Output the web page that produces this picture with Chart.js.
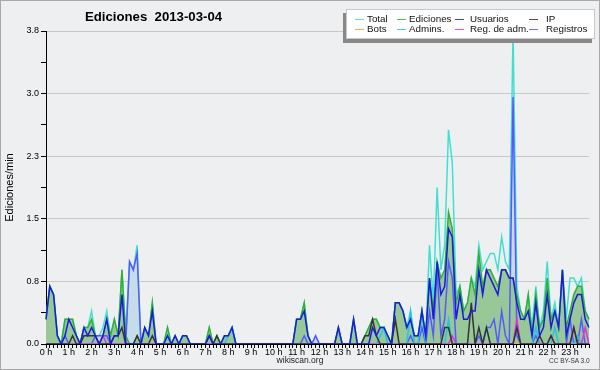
<!DOCTYPE html>
<html>
<head>
<meta charset="utf-8">
<script src="https://cdn.jsdelivr.net/npm/chart.js@4.4.0/dist/chart.umd.min.js"></script>
<style>
    html, body { margin: 0; padding: 0; background: #eeeff1; }
    #wrap { position: relative; width: 600px; height: 370px; font-family: 'Liberation Sans', Arial, sans-serif; color: #000; }
    #frame { position: absolute; left: 0; top: 0; width: 600px; height: 370px; box-sizing: border-box; border: 1px solid #a8a8a8; pointer-events: none; }
    .title { position: absolute; left: 85px; top: 9px; font-size: 13.2px; font-weight: bold; white-space: pre; line-height: 15px; }
    .legend { position: absolute; left: 346px; top: 9px; width: 249px; height: 30px; box-sizing: border-box; background: #fff; border: 1px solid #c8c8c8; box-shadow: -3px 4px 0 #888; }
    .legend .ln { position: absolute; width: 9px; height: 1px; opacity: 0.85; }
    .legend .tx { position: absolute; font-size: 9.8px; line-height: 12px; white-space: nowrap; color: #111; }
    .foot { position: absolute; top: 355px; left: 0; width: 600px; text-align: center; font-size: 8.5px; color: #222; }
    .cc { position: absolute; left: 549px; top: 357px; font-size: 6.5px; color: #333; white-space: nowrap; }
</style>
</head>
<body>
<div id="wrap">
    <canvas id="chart" width="600" height="370"></canvas>
    <div class="title">Ediciones  2013-03-04</div>
    <div class="legend" id="legend"></div>
    <div class="foot">wikiscan.org</div>
    <div class="cc">CC BY-SA 3.0</div>
    <div id="frame"></div>
</div>
<script>
// horas del eje x (una marca cada 10 min)
const hours = ['0 h', '1 h', '2 h', '3 h', '4 h', '5 h', '6 h', '7 h', '8 h', '9 h', '10 h', '11 h',
    '12 h', '13 h', '14 h', '15 h', '16 h', '17 h', '18 h', '19 h', '20 h', '21 h', '22 h', '23 h'];
const yTicks = [0, 0.38, 0.76, 1.14, 1.52, 1.9, 2.28, 2.66, 3.04, 3.42, 3.8];

// ediciones/min, 6 valores por hora
const total = [
    0.3, 0.7, 0.6, 0.1, 0, 0.3,   0.3, 0.3, 0.1, 0, 0.2, 0.2,   0.4, 0.1, 0.1, 0.2, 0.4, 0.1,
    0.3, 0.1, 0.9, 0.1, 1.0, 0.9,   1.2, 0, 0.2, 0.1, 0.5, 0,   0, 0, 0.2, 0, 0.1, 0,
    0.1, 0.1, 0, 0, 0, 0,   0, 0.2, 0, 0.1, 0, 0.1,   0.1, 0.2, 0, 0, 0, 0,
    0, 0, 0, 0, 0, 0,   0, 0, 0, 0, 0, 0,   0.3, 0.3, 0.5, 0.1, 0, 0.1,
    0, 0, 0, 0, 0, 0.2,   0, 0, 0, 0.3, 0, 0,   0.1, 0.2, 0.3, 0.3, 0.2, 0.2,
    0.1, 0, 0.5, 0.5, 0.4, 0.2,   0.4, 0.1, 0.1, 0.4, 0.1, 1.2,   0.5, 1.9, 0.9, 1.2, 2.6, 2.2,
    0.6, 0.7, 0.4, 0.5, 0.8, 0.7,   1.2, 0.9, 1.0, 1.1, 1.1, 0.9,   1.3, 1.0, 0.9, 3.8, 0.7, 0.4,
    0.3, 0.6, 0.2, 0.7, 0.2, 0.4,   1.0, 0.3, 0.5, 0.2, 0.9, 0.3,   0.8, 0.8, 0.7, 0.8, 0.4, 0.3
];
const ediciones = [
    0.3, 0.7, 0.6, 0.1, 0, 0.3,   0.3, 0.3, 0.1, 0, 0.2, 0.2,   0.3, 0.1, 0, 0.1, 0.3, 0.1,
    0.3, 0.1, 0.9, 0.1, 0, 0,   0.1, 0, 0.2, 0.1, 0.5, 0,   0, 0, 0.2, 0, 0.1, 0,
    0.1, 0.1, 0, 0, 0, 0,   0, 0.2, 0, 0.1, 0, 0.1,   0.1, 0.2, 0, 0, 0, 0,
    0, 0, 0, 0, 0, 0,   0, 0, 0, 0, 0, 0,   0.3, 0.3, 0.5, 0.1, 0, 0,
    0, 0, 0, 0, 0, 0.2,   0, 0, 0, 0.3, 0, 0,   0.1, 0.2, 0.3, 0.3, 0.2, 0.2,
    0.1, 0, 0.5, 0.5, 0.4, 0.2,   0.3, 0.1, 0.1, 0.4, 0.1, 0.8,   0.4, 1.0, 0.8, 0.9, 1.6, 1.4,
    0.5, 0.7, 0.4, 0.5, 0.8, 0.6,   1.1, 0.7, 0.9, 0.9, 0.8, 0.7,   0.9, 0.9, 0.8, 0.8, 0.6, 0.4,
    0.3, 0.6, 0.1, 0.6, 0.2, 0.3,   0.8, 0.3, 0.4, 0.2, 0.9, 0.2,   0.4, 0.6, 0.7, 0.7, 0.4, 0.3
];
const usuarios = [
    0.3, 0.7, 0.6, 0.1, 0, 0.1,   0.3, 0.2, 0.1, 0, 0.2, 0.1,   0.2, 0.1, 0, 0.1, 0.3, 0,
    0.1, 0.1, 0.6, 0, 0, 0,   0, 0, 0.2, 0.1, 0.4, 0,   0, 0, 0.1, 0, 0.1, 0,
    0.1, 0.1, 0, 0, 0, 0,   0, 0.1, 0, 0, 0, 0.1,   0.1, 0.2, 0, 0, 0, 0,
    0, 0, 0, 0, 0, 0,   0, 0, 0, 0, 0, 0,   0.3, 0.3, 0.4, 0.1, 0, 0,
    0, 0, 0, 0, 0, 0.2,   0, 0, 0, 0.3, 0, 0,   0, 0, 0.2, 0.1, 0.2, 0.2,
    0.1, 0, 0.5, 0.5, 0.4, 0.2,   0.3, 0.1, 0.1, 0.4, 0.1, 0.8,   0.3, 1.0, 0.6, 0.7, 1.4, 1.3,
    0.3, 0.6, 0.3, 0.3, 0.4, 0.4,   0.9, 0.6, 0.9, 0.8, 0.7, 0.6,   0.9, 0.9, 0.8, 0.8, 0.5, 0.3,
    0.3, 0.4, 0.1, 0.5, 0.1, 0.2,   0.6, 0.2, 0.4, 0.2, 0.9, 0.1,   0.3, 0.5, 0.6, 0.6, 0.3, 0.2
];
const ip = [
    0, 0, 0, 0, 0, 0,   0, 0.1, 0, 0, 0.1, 0.1,   0.1, 0.1, 0, 0, 0, 0,
    0.1, 0.1, 0.2, 0, 0, 0,   0.1, 0, 0, 0, 0.1, 0,   0, 0, 0, 0, 0, 0,
    0, 0, 0, 0, 0, 0,   0, 0.1, 0, 0.1, 0, 0,   0, 0, 0, 0, 0, 0,
    0, 0, 0, 0, 0, 0,   0, 0, 0, 0, 0, 0,   0, 0, 0, 0, 0, 0,
    0, 0, 0, 0, 0, 0,   0, 0, 0, 0, 0, 0,   0.1, 0.1, 0.3, 0.1, 0, 0,
    0, 0, 0.3, 0, 0, 0,   0, 0, 0, 0, 0, 0,   0, 0, 0, 0.2, 0.2, 0,
    0, 0, 0, 0, 0.5, 0,   0.2, 0, 0.2, 0, 0, 0,   0, 0, 0, 0, 0.2, 0,
    0, 0, 0, 0, 0.1, 0,   0, 0.1, 0, 0, 0, 0,   0, 0.2, 0, 0, 0, 0
];
const bots = [
    0, 0, 0, 0, 0, 0,   0, 0, 0, 0, 0, 0,   0, 0, 0, 0, 0, 0,
    0, 0, 0, 0, 0, 0,   0, 0, 0, 0, 0, 0,   0, 0, 0, 0, 0, 0,
    0, 0, 0, 0, 0, 0,   0, 0, 0, 0, 0, 0,   0, 0, 0, 0, 0, 0,
    0, 0, 0, 0, 0, 0,   0, 0, 0, 0, 0, 0,   0, 0, 0, 0, 0, 0,
    0, 0, 0, 0, 0, 0,   0, 0, 0, 0, 0, 0,   0, 0, 0, 0, 0, 0,
    0, 0, 0, 0, 0, 0,   0, 0, 0, 0, 0, 0,   0, 0, 0, 0, 0, 0,
    0, 0, 0, 0, 0, 0,   0, 0, 0, 0, 0, 0,   0, 0, 0, 0, 0, 0,
    0, 0, 0, 0, 0, 0,   0, 0, 0, 0, 0, 0,   0, 0, 0, 0, 0, 0
];
const admins = [
    0, 0, 0, 0, 0, 0,   0, 0, 0, 0, 0, 0,   0, 0, 0, 0, 0, 0,
    0, 0, 0, 0, 0, 0,   0, 0, 0, 0, 0, 0,   0, 0, 0.1, 0, 0, 0,
    0, 0, 0, 0, 0, 0,   0, 0, 0, 0, 0, 0,   0.1, 0.2, 0, 0, 0, 0,
    0, 0, 0, 0, 0, 0,   0, 0, 0, 0, 0, 0,   0, 0, 0, 0, 0, 0,
    0, 0, 0, 0, 0, 0,   0, 0, 0, 0, 0, 0,   0, 0, 0, 0, 0.1, 0.2,
    0, 0, 0, 0, 0, 0,   0.4, 0, 0, 0.4, 0, 0,   0, 0, 0, 0, 0.3, 0,
    0, 0, 0, 0, 0, 0,   0, 0, 0.2, 0, 0, 0,   0, 0, 0, 0, 0.2, 0,
    0, 0, 0, 0.2, 0, 0,   0, 0, 0.2, 0, 0, 0,   0, 0, 0.1, 0, 0, 0
];
const regAdm = [
    0, 0, 0, 0, 0, 0,   0, 0, 0, 0, 0, 0,   0, 0, 0, 0.1, 0, 0,
    0, 0, 0, 0, 0, 0,   0, 0, 0, 0, 0, 0,   0, 0, 0, 0, 0, 0,
    0, 0, 0, 0, 0, 0,   0, 0, 0, 0, 0, 0,   0, 0, 0, 0, 0, 0,
    0, 0, 0, 0, 0, 0,   0, 0, 0, 0, 0, 0,   0, 0, 0, 0, 0, 0,
    0, 0, 0, 0, 0, 0,   0, 0, 0, 0, 0, 0,   0, 0, 0, 0, 0, 0,
    0, 0, 0, 0, 0, 0,   0, 0, 0, 0, 0, 0,   0, 0, 0, 0, 0, 0.1,
    0, 0, 0, 0, 0, 0,   0, 0, 0, 0, 0, 0,   0, 0, 0, 0, 0.3, 0,
    0, 0, 0, 0, 0, 0,   0, 0.1, 0, 0, 0, 0,   0, 0.2, 0, 0, 0.2, 0
];
const registros = [
    0, 0, 0, 0, 0, 0.1,   0, 0, 0, 0, 0, 0,   0, 0.1, 0.1, 0.1, 0.1, 0,
    0, 0, 0, 0, 1.0, 0.9,   1.1, 0, 0, 0, 0, 0,   0, 0, 0, 0, 0, 0,
    0, 0, 0, 0, 0, 0,   0, 0, 0, 0, 0, 0,   0, 0, 0, 0, 0, 0,
    0, 0, 0, 0, 0, 0,   0, 0, 0, 0, 0, 0,   0, 0, 0.1, 0, 0, 0.1,
    0, 0, 0, 0, 0, 0,   0, 0, 0, 0, 0, 0,   0, 0, 0, 0, 0, 0,
    0, 0, 0, 0, 0, 0,   0.1, 0, 0, 0.2, 0, 0.4,   0.1, 0.9, 0.1, 0.3, 1.0, 0.8,
    0, 0, 0, 0, 0, 0,   0.1, 0, 0.2, 0.2, 0.3, 0,   0.4, 0.1, 0, 3.0, 0.1, 0,
    0, 0, 0, 0.1, 0, 0,   0, 0, 0, 0, 0, 0,   0.3, 0, 0, 0.3, 0, 0
];

const binLabels = hours.flatMap(h => [h, '', '', '', '', '']);

// orden de la leyenda
const series = [
    { name: 'Total', data: total, color: '#40e0d0', order: 9 },
    { name: 'Ediciones', data: ediciones, color: '#33b033', fill: '#98c898', order: 7 },
    { name: 'Usuarios', data: usuarios, color: '#1a1ae0', order: 2 },
    { name: 'IP', data: ip, color: '#333333', order: 3 },
    { name: 'Bots', data: bots, color: '#ffa020', order: 6 },
    { name: 'Admins.', data: admins, color: '#20c4e4', order: 5 },
    { name: 'Reg. de adm.', data: regAdm, color: '#e030e0', order: 4 },
    { name: 'Registros', data: registros, color: '#5858ff', fill: '#c6dde9', order: 8 }
];

// leyenda
const legend = document.getElementById('legend');
const lineX = [8, 50, 108, 182], textX = [20, 62, 123, 199], rowY = [10, 20];
series.forEach((s, i) => {
    const col = i % 4, row = Math.floor(i / 4);
    const ln = document.createElement('div');
    ln.className = 'ln';
    ln.style.left = lineX[col] + 'px';
    ln.style.top = (rowY[row] - 1) + 'px';
    ln.style.background = s.color;
    legend.appendChild(ln);
    const tx = document.createElement('span');
    tx.className = 'tx';
    tx.style.left = textX[col] + 'px';
    tx.style.top = (rowY[row] - 7) + 'px';
    tx.textContent = s.name;
    legend.appendChild(tx);
});

const font = { family: "'Liberation Sans', Arial, sans-serif", size: 9 };

new Chart(document.getElementById('chart'), {
    type: 'line',
    data: {
        labels: binLabels,
        datasets: series.map(s => ({
            label: s.name,
            data: s.data,
            borderColor: s.color,
            backgroundColor: s.fill || s.color,
            fill: s.fill ? 'origin' : false,
            order: s.order,
            borderWidth: 1.5,
            pointRadius: 0,
            tension: 0
        }))
    },
    options: {
        responsive: false,
        animation: false,
        layout: { padding: { left: 0, right: 11, top: 31, bottom: 0 } },
        plugins: {
            legend: { display: false },
            tooltip: { enabled: false },
            filler: { drawTime: 'beforeDatasetsDraw' }
        },
        scales: {
            x: {
                type: 'category',
                offset: false,
                z: 1,
                grid: { drawOnChartArea: false, tickLength: 4, tickColor: '#000' },
                border: { color: '#000' },
                ticks: {
                    autoSkip: false, maxRotation: 0, minRotation: 0, padding: -1,
                    font, color: '#000',
                    callback: (v, i) => binLabels[i]
                },
                afterFit: s => { s.height = 26; }
            },
            y: {
                min: 0, max: 3.8,
                z: 1,
                afterBuildTicks: s => { s.ticks = yTicks.map(v => ({ value: v })); },
                grid: {
                    color: c => (c.index > 0 && c.index % 2 === 0) ? '#c8c8c8' : 'rgba(0,0,0,0)',
                    tickColor: '#000', tickLength: 5
                },
                border: { color: '#000' },
                ticks: {
                    padding: 2, font, color: '#000',
                    callback: (v, i) => i % 2 ? '' : v.toFixed(1)
                },
                title: {
                    display: true, text: 'Ediciones/min', color: '#000',
                    font: { family: font.family, size: 11 },
                    padding: { top: 3, bottom: 0 }
                },
                afterFit: s => { s.width = 46; }
            }
        }
    }
});
</script>
</body>
</html>
